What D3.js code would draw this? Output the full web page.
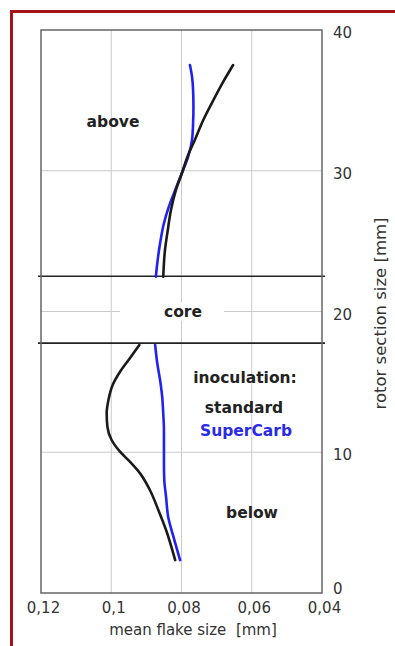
<!DOCTYPE html>
<html>
<head>
<meta charset="utf-8">
<script src="https://cdn.jsdelivr.net/npm/d3@7"></script>
<style>
  html, body { margin: 0; padding: 0; background: #fff; }
  svg { display: block; }
  text { font-family: "DejaVu Sans", Verdana, sans-serif; }
</style>
</head>
<body>
<svg id="chart" width="395" height="646"></svg>
<script>
// Rotor section size (mm) vs. mean flake size (mm), two inoculation variants
const standardAboveMm  = [22.47, 24.37, 25.79, 27.21, 28.63, 29.82, 31.0, 32.19, 33.61, 35.03, 36.33, 37.51];
const standardAboveVal = [0.0852, 0.0847, 0.0839, 0.0830, 0.0816, 0.0799, 0.0783, 0.0762, 0.0738, 0.0709, 0.0681, 0.0653];
const superAboveMm     = [22.47, 23.42, 24.85, 26.27, 27.45, 28.63, 29.82, 31.0, 32.19, 33.37, 34.55, 35.74, 36.68, 37.51];
const superAboveVal    = [0.0873, 0.0869, 0.0861, 0.0850, 0.0836, 0.0818, 0.0799, 0.0781, 0.0770, 0.0767, 0.0766, 0.0767, 0.0770, 0.0776];

const standardBelowMm  = [2.34, 4.48, 5.90, 7.32, 8.50, 9.33, 10.04, 10.87, 11.82, 12.77, 13.71, 14.78, 15.72, 16.68, 17.62];
const standardBelowVal = [0.0818, 0.0844, 0.0866, 0.0890, 0.0918, 0.0947, 0.0975, 0.0999, 0.1011, 0.1013, 0.1008, 0.0996, 0.0975, 0.0947, 0.0920];
const superBelowMm     = [2.34, 4.0, 5.42, 6.84, 8.03, 9.21, 10.39, 11.58, 12.77, 13.95, 15.13, 16.32, 17.62];
const superBelowVal    = [0.0804, 0.0823, 0.0838, 0.0844, 0.0849, 0.0850, 0.0850, 0.0850, 0.0852, 0.0855, 0.0861, 0.0869, 0.0875];

const coreBounds = [17.75, 22.5];
const xTicks = [0.12, 0.1, 0.08, 0.06, 0.04];
const xTickLabels = ["0,12", "0,1", "0,08", "0,06", "0,04"];
const yTicks = [0, 10, 20, 30, 40];

const svg = d3.select("#chart");
const m = { left: 41, right: 322, top: 30, bottom: 593 };

const x = d3.scaleLinear().domain([0.12, 0.04]).range([m.left, m.right]);
const y = d3.scaleLinear().domain([0, 40]).range([m.bottom, m.top]);

// page frame (top and left edges)
svg.append("line").attr("x1", 10).attr("x2", 395).attr("y1", 11.5).attr("y2", 11.5)
  .attr("stroke", "#a5121a").attr("stroke-width", 3);
svg.append("line").attr("x1", 11.5).attr("x2", 11.5).attr("y1", 10).attr("y2", 646)
  .attr("stroke", "#a5121a").attr("stroke-width", 3);

// grid
const grid = svg.append("g").attr("stroke", "#cacaca").attr("stroke-width", 1);
[0.1, 0.08, 0.06].forEach(v => grid.append("line")
  .attr("x1", x(v)).attr("x2", x(v)).attr("y1", m.top).attr("y2", m.bottom));
[10, 20, 30].forEach(v => grid.append("line")
  .attr("x1", m.left).attr("x2", m.right).attr("y1", y(v)).attr("y2", y(v)));

// core band
svg.append("rect").attr("x", 120).attr("width", 104).attr("y", y(20) - 9).attr("height", 18)
  .attr("fill", "#fff");
coreBounds.forEach(v => svg.append("line")
  .attr("x1", m.left - 3).attr("x2", m.right + 3).attr("y1", y(v)).attr("y2", y(v))
  .attr("stroke", "#222").attr("stroke-width", 1.6));

// plot border
svg.append("rect").attr("x", m.left).attr("y", m.top)
  .attr("width", m.right - m.left).attr("height", m.bottom - m.top)
  .attr("fill", "none").attr("stroke", "#666").attr("stroke-width", 1.5);

// curves
const line = d3.line().x(d => x(d[1])).y(d => y(d[0])).curve(d3.curveMonotoneY);
function drawCurve(mm, vals, color) {
  svg.append("path").datum(d3.zip(mm, vals)).attr("d", line)
    .attr("fill", "none").attr("stroke", color).attr("stroke-width", 2.6)
    .attr("stroke-linecap", "round");
}
drawCurve(standardBelowMm, standardBelowVal, "#1a1a1a");
drawCurve(superBelowMm, superBelowVal, "#2222ee");
drawCurve(superAboveMm, superAboveVal, "#2222ee");
drawCurve(standardAboveMm, standardAboveVal, "#1a1a1a");

// axes
const xAxis = d3.axisBottom(x).tickValues(xTicks).tickSize(0)
  .tickFormat((d, i) => xTickLabels[i]);
const gx = svg.append("g").attr("transform", `translate(2,${m.bottom})`).call(xAxis);
gx.select(".domain").remove();
gx.selectAll("text").attr("font-size", 15).attr("fill", "#333").attr("y", 20).attr("dy", 0);

const yAxis = d3.axisRight(y).tickValues(yTicks).tickSize(0);
const gy = svg.append("g").attr("transform", `translate(${m.right},0)`).call(yAxis);
gy.select(".domain").remove();
gy.selectAll("text").attr("font-size", 15).attr("fill", "#333").attr("x", 11)
  .attr("dy", d => d === 0 ? "0.05em" : "0.5em");

svg.append("text").attr("x", 193).attr("y", 635).attr("text-anchor", "middle")
  .attr("font-size", 15).attr("fill", "#333").text("mean flake size\u00a0 [mm]");
svg.append("text").attr("transform", `translate(386,313.5) rotate(-90)`)
  .attr("text-anchor", "middle").attr("font-size", 16.5).attr("fill", "#333")
  .text("rotor section size [mm]");

// annotations
const notes = [
  { t: "above", x: 113, y: 127, c: "#222" },
  { t: "core", x: 183, y: 317, c: "#222" },
  { t: "inoculation:", x: 245, y: 383, c: "#222" },
  { t: "standard", x: 244, y: 413, c: "#222" },
  { t: "SuperCarb", x: 246, y: 436, c: "#2a2ae8" },
  { t: "below", x: 252, y: 518, c: "#222" }
];
svg.append("g").selectAll("text").data(notes).join("text")
  .attr("x", d => d.x).attr("y", d => d.y).attr("text-anchor", "middle")
  .attr("font-size", 15.5).attr("font-weight", "bold").attr("fill", d => d.c)
  .text(d => d.t);
</script>
</body>
</html>
